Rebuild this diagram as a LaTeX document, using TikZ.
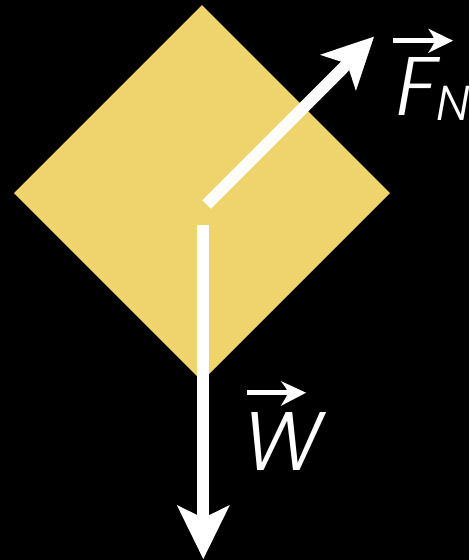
\documentclass[tikz,border=0pt]{standalone}
\usepackage{fontspec}
\newfontfamily\labelfont{Poppins}[UprightFont=* Light, ItalicFont=* Light Italic]
\definecolor{blockyellow}{RGB}{239,211,108}
\tikzset{
  force/.style={draw=white, line width=12pt, line cap=butt},
  forcehead/.style={fill=white},
  vecbar/.style={draw=white, line width=5pt},
  label/.style={text=white, inner sep=0pt, anchor=base west},
}
\begin{document}
\begin{tikzpicture}[x=1pt,y=-1pt]
  \fill[black] (0,0) rectangle (469,560);
  \useasboundingbox (0,0) rectangle (469,560);
  % block
  \coordinate (top) at (202,5);
  \coordinate (right) at (390,193);
  \coordinate (bottom) at (202,381);
  \coordinate (left) at (14,193);
  \fill[blockyellow] (top) -- (right) -- (bottom) -- (left) -- cycle;
  % normal force
  \coordinate (FNs) at (206.7,204.5);
  \coordinate (FNn) at (349,62);
  \coordinate (FNt) at (374,36.7);
  \draw[force] (FNs) -- (FNn);
  \fill[forcehead] (FNt) -- (319.9,54.8) -- (347.1,63.6) -- (355.9,90.8) -- cycle;
  % weight
  \coordinate (Ws) at (203.3,225);
  \coordinate (Wn) at (203.3,522);
  \coordinate (Wt) at (203.3,559);
  \draw[force] (Ws) -- (Wn);
  \fill[forcehead] (Wt) -- (176.8,505) -- (203.3,518) -- (229.8,505) -- cycle;
  % labels
  \node[label, font=\labelfont\itshape\fontsize{83}{90}\selectfont] (F) at (396,115) {F};
  \node[label, font=\labelfont\itshape\fontsize{49}{54}\selectfont] (N) at (436,120) {N};
  \node[label, font=\labelfont\itshape\fontsize{83}{90}\selectfont] (W) at (243,470) {W};
  % vector arrows over labels
  \coordinate (FvA) at (393,40.7);
  \coordinate (FvB) at (437,40.7);
  \draw[vecbar] (FvA) -- (FvB);
  \fill[white] (453,40.7) -- (428,28.5) .. controls (433,36) .. (435,40.7) .. controls (433,45.4) .. (428,53) -- cycle;
  \coordinate (WvA) at (247.3,392.7);
  \coordinate (WvB) at (290,392.7);
  \draw[vecbar] (WvA) -- (WvB);
  \fill[white] (306,392.7) -- (280.7,381) .. controls (286,388) .. (288.3,392.7) .. controls (286,397.4) .. (280.7,406) -- cycle;
\end{tikzpicture}
\end{document}
